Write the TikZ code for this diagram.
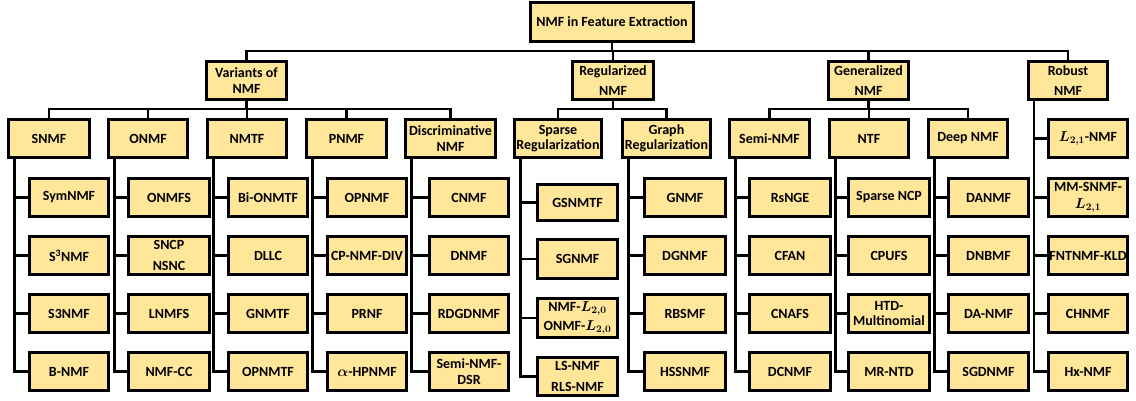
\documentclass[tikz,border=0pt]{standalone}
\usepackage{fontspec}
\setmainfont{Carlito}
\usetikzlibrary{calc}
\definecolor{boxfill}{HTML}{FFE699}
\newcommand\mybox[7][]{\node[box,#1,minimum width={#5-#3-3},minimum height={#6-#4-3}] (#2) at ({(#3+#5)/2},{(#4+#6)/2}) {#7};}
\begin{document}
\begin{tikzpicture}[x=1pt,y=-1pt,
 box/.style={draw=black, line width=3pt, fill=boxfill, inner sep=0pt, align=center, font=\bfseries\fontsize{14}{15.5}\selectfont},
 conn/.style={draw=black, line width=2.5pt, line cap=rect}]
\useasboundingbox (0,0) rectangle (1136,401);
% root and level 1
\mybox{root}{529}{1}{695}{43}{NMF in Feature Extraction}
\mybox{var}{205}{60}{288}{101}{Variants of\\NMF}
\mybox{reg}{571}{60}{655}{101}{Regularized\\[5pt]NMF}
\mybox{gen}{827}{60}{910}{101}{Generalized\\[5pt]NMF}
\mybox{rob}{1027}{60}{1109}{101}{Robust\\[5pt]NMF}
% level 2
\mybox{snmf}{7}{118}{91}{159}{SNMF}
\mybox{onmf}{107}{118}{189}{159}{ONMF}
\mybox{nmtf}{206}{118}{288}{159}{NMTF}
\mybox{pnmf}{305}{118}{388}{159}{PNMF}
\mybox{disc}{404}{118}{497}{159}{Discriminative\\NMF}
\mybox{spar}{513}{118}{603}{159}{Sparse\\Regularization}
\mybox{grap}{621}{118}{712}{159}{Graph\\Regularization}
\mybox{semi}{728}{118}{811}{159}{Semi-NMF}
\mybox{ntf}{828}{118}{910}{159}{NTF}
\mybox{deep}{927}{118}{1009}{159}{Deep NMF}
\mybox{rb1}{1047}{118}{1129}{159}{{\boldmath$L_{2,1}$}-NMF}
% level 3: SNMF
\mybox{sa1}{28}{177}{110}{218}{SymNMF}
\mybox{sa2}{28}{235}{110}{276}{S\textsuperscript{3}NMF}
\mybox{sa3}{28}{293}{110}{334}{S3NMF}
\mybox{sa4}{28}{351}{110}{392}{B-NMF}
% ONMF
\mybox{oa1}{127}{177}{211}{218}{ONMFS}
\mybox{oa2}{127}{235}{211}{276}{SNCP\\[5pt]NSNC}
\mybox{oa3}{127}{293}{211}{334}{LNMFS}
\mybox{oa4}{127}{351}{211}{392}{NMF-CC}
% NMTF
\mybox{ta1}{227}{177}{309}{218}{Bi-ONMTF}
\mybox{ta2}{227}{235}{309}{276}{DLLC}
\mybox{ta3}{227}{293}{309}{334}{GNMTF}
\mybox{ta4}{227}{351}{309}{392}{OPNMTF}
% PNMF
\mybox{pa1}{326}{177}{408}{218}{OPNMF}
\mybox{pa2}{326}{235}{408}{276}{CP-NMF-DIV}
\mybox{pa3}{326}{293}{408}{334}{PRNF}
\mybox{pa4}{326}{351}{408}{392}{{\boldmath$\alpha$}-HPNMF}
% Discriminative
\mybox{da1}{428}{177}{510}{218}{CNMF}
\mybox{da2}{428}{235}{510}{276}{DNMF}
\mybox{da3}{428}{293}{510}{334}{RDGDNMF}
\mybox{da4}{428}{351}{510}{392}{Semi-NMF-\\DSR}
% Sparse
\mybox{xa1}{536}{183}{619}{222}{GSNMTF}
\mybox{xa2}{536}{238}{619}{280}{SGNMF}
\mybox{xa3}{536}{297}{619}{339}{NMF-{\boldmath$L_{2,0}$}\\[4pt]ONMF-{\boldmath$L_{2,0}$}}
\mybox{xa4}{536}{356}{619}{397}{LS-NMF\\[5pt]RLS-NMF}
% Graph
\mybox{ga1}{643}{177}{727}{218}{GNMF}
\mybox{ga2}{643}{235}{727}{276}{DGNMF}
\mybox{ga3}{643}{293}{727}{334}{RBSMF}
\mybox{ga4}{643}{351}{727}{392}{HSSNMF}
% Semi-NMF
\mybox{ma1}{748}{177}{832}{218}{RsNGE}
\mybox{ma2}{748}{235}{832}{276}{CFAN}
\mybox{ma3}{748}{293}{832}{334}{CNAFS}
\mybox{ma4}{748}{351}{832}{392}{DCNMF}
% NTF
\mybox{na1}{847}{177}{931}{218}{Sparse NCP}
\mybox{na2}{847}{235}{931}{276}{CPUFS}
\mybox{na3}{847}{293}{931}{334}{HTD-\\Multinomial}
\mybox{na4}{847}{351}{931}{392}{MR-NTD}
% Deep
\mybox{ea1}{947}{177}{1030}{218}{DANMF}
\mybox{ea2}{947}{235}{1030}{276}{DNBMF}
\mybox{ea3}{947}{293}{1030}{334}{DA-NMF}
\mybox{ea4}{947}{351}{1030}{392}{SGDNMF}
% Robust
\mybox{rb2}{1047}{177}{1129}{218}{MM-SNMF-\\[1pt]{\boldmath$L_{2,1}$}}
\mybox{rb3}{1047}{235}{1129}{276}{FNTNMF-KLD}
\mybox{rb4}{1047}{293}{1129}{334}{CHNMF}
\mybox{rb5}{1047}{351}{1129}{392}{Hx-NMF}
% buses
\coordinate (bus0) at (0,51);
\coordinate (bus1) at (0,109);
\draw[conn] (root.south) -- (root.south |- bus0);
\draw[conn] (var.north) -- (var.north |- bus0) -- (rob.north |- bus0) -- (rob.north);
\draw[conn] (reg.north) -- (reg.north |- bus0);
\draw[conn] (gen.north) -- (gen.north |- bus0);
% variants
\draw[conn] (var.south) -- (var.south |- bus1);
\draw[conn] (snmf.north) -- (snmf.north |- bus1) -- (disc.north |- bus1) -- (disc.north);
\foreach \q in {onmf,nmtf,pnmf} \draw[conn] (\q.north |- bus1) -- (\q.north);
% regularized
\draw[conn] (reg.south) -- (reg.south |- bus1);
\draw[conn] (spar.north) -- (spar.north |- bus1) -- (grap.north |- bus1) -- (grap.north);
% generalized
\draw[conn] (gen.south) -- (gen.south |- bus1);
\draw[conn] (semi.north) -- (semi.north |- bus1) -- (deep.north |- bus1) -- (deep.north);
\draw[conn] (ntf.north |- bus1) -- (ntf.north);
% child columns
\foreach \p/\a/\b/\c/\d in {snmf/sa1/sa2/sa3/sa4, onmf/oa1/oa2/oa3/oa4, nmtf/ta1/ta2/ta3/ta4, pnmf/pa1/pa2/pa3/pa4, disc/da1/da2/da3/da4, spar/xa1/xa2/xa3/xa4, grap/ga1/ga2/ga3/ga4, semi/ma1/ma2/ma3/ma4, ntf/na1/na2/na3/na4, deep/ea1/ea2/ea3/ea4} {
  \coordinate (v) at ($(\p.south west)+(7.5,0)$);
  \draw[conn] (v) |- (\d.west);
  \foreach \q in {\a,\b,\c} \draw[conn] (v |- \q.west) -- (\q.west);
}
\coordinate (rv) at ($(rob.south west)+(7,0)$);
\draw[conn] (rv) |- (rb5.west);
\foreach \q in {rb1,rb2,rb3,rb4} \draw[conn] (rv |- \q.west) -- (\q.west);
\end{tikzpicture}
\end{document}
